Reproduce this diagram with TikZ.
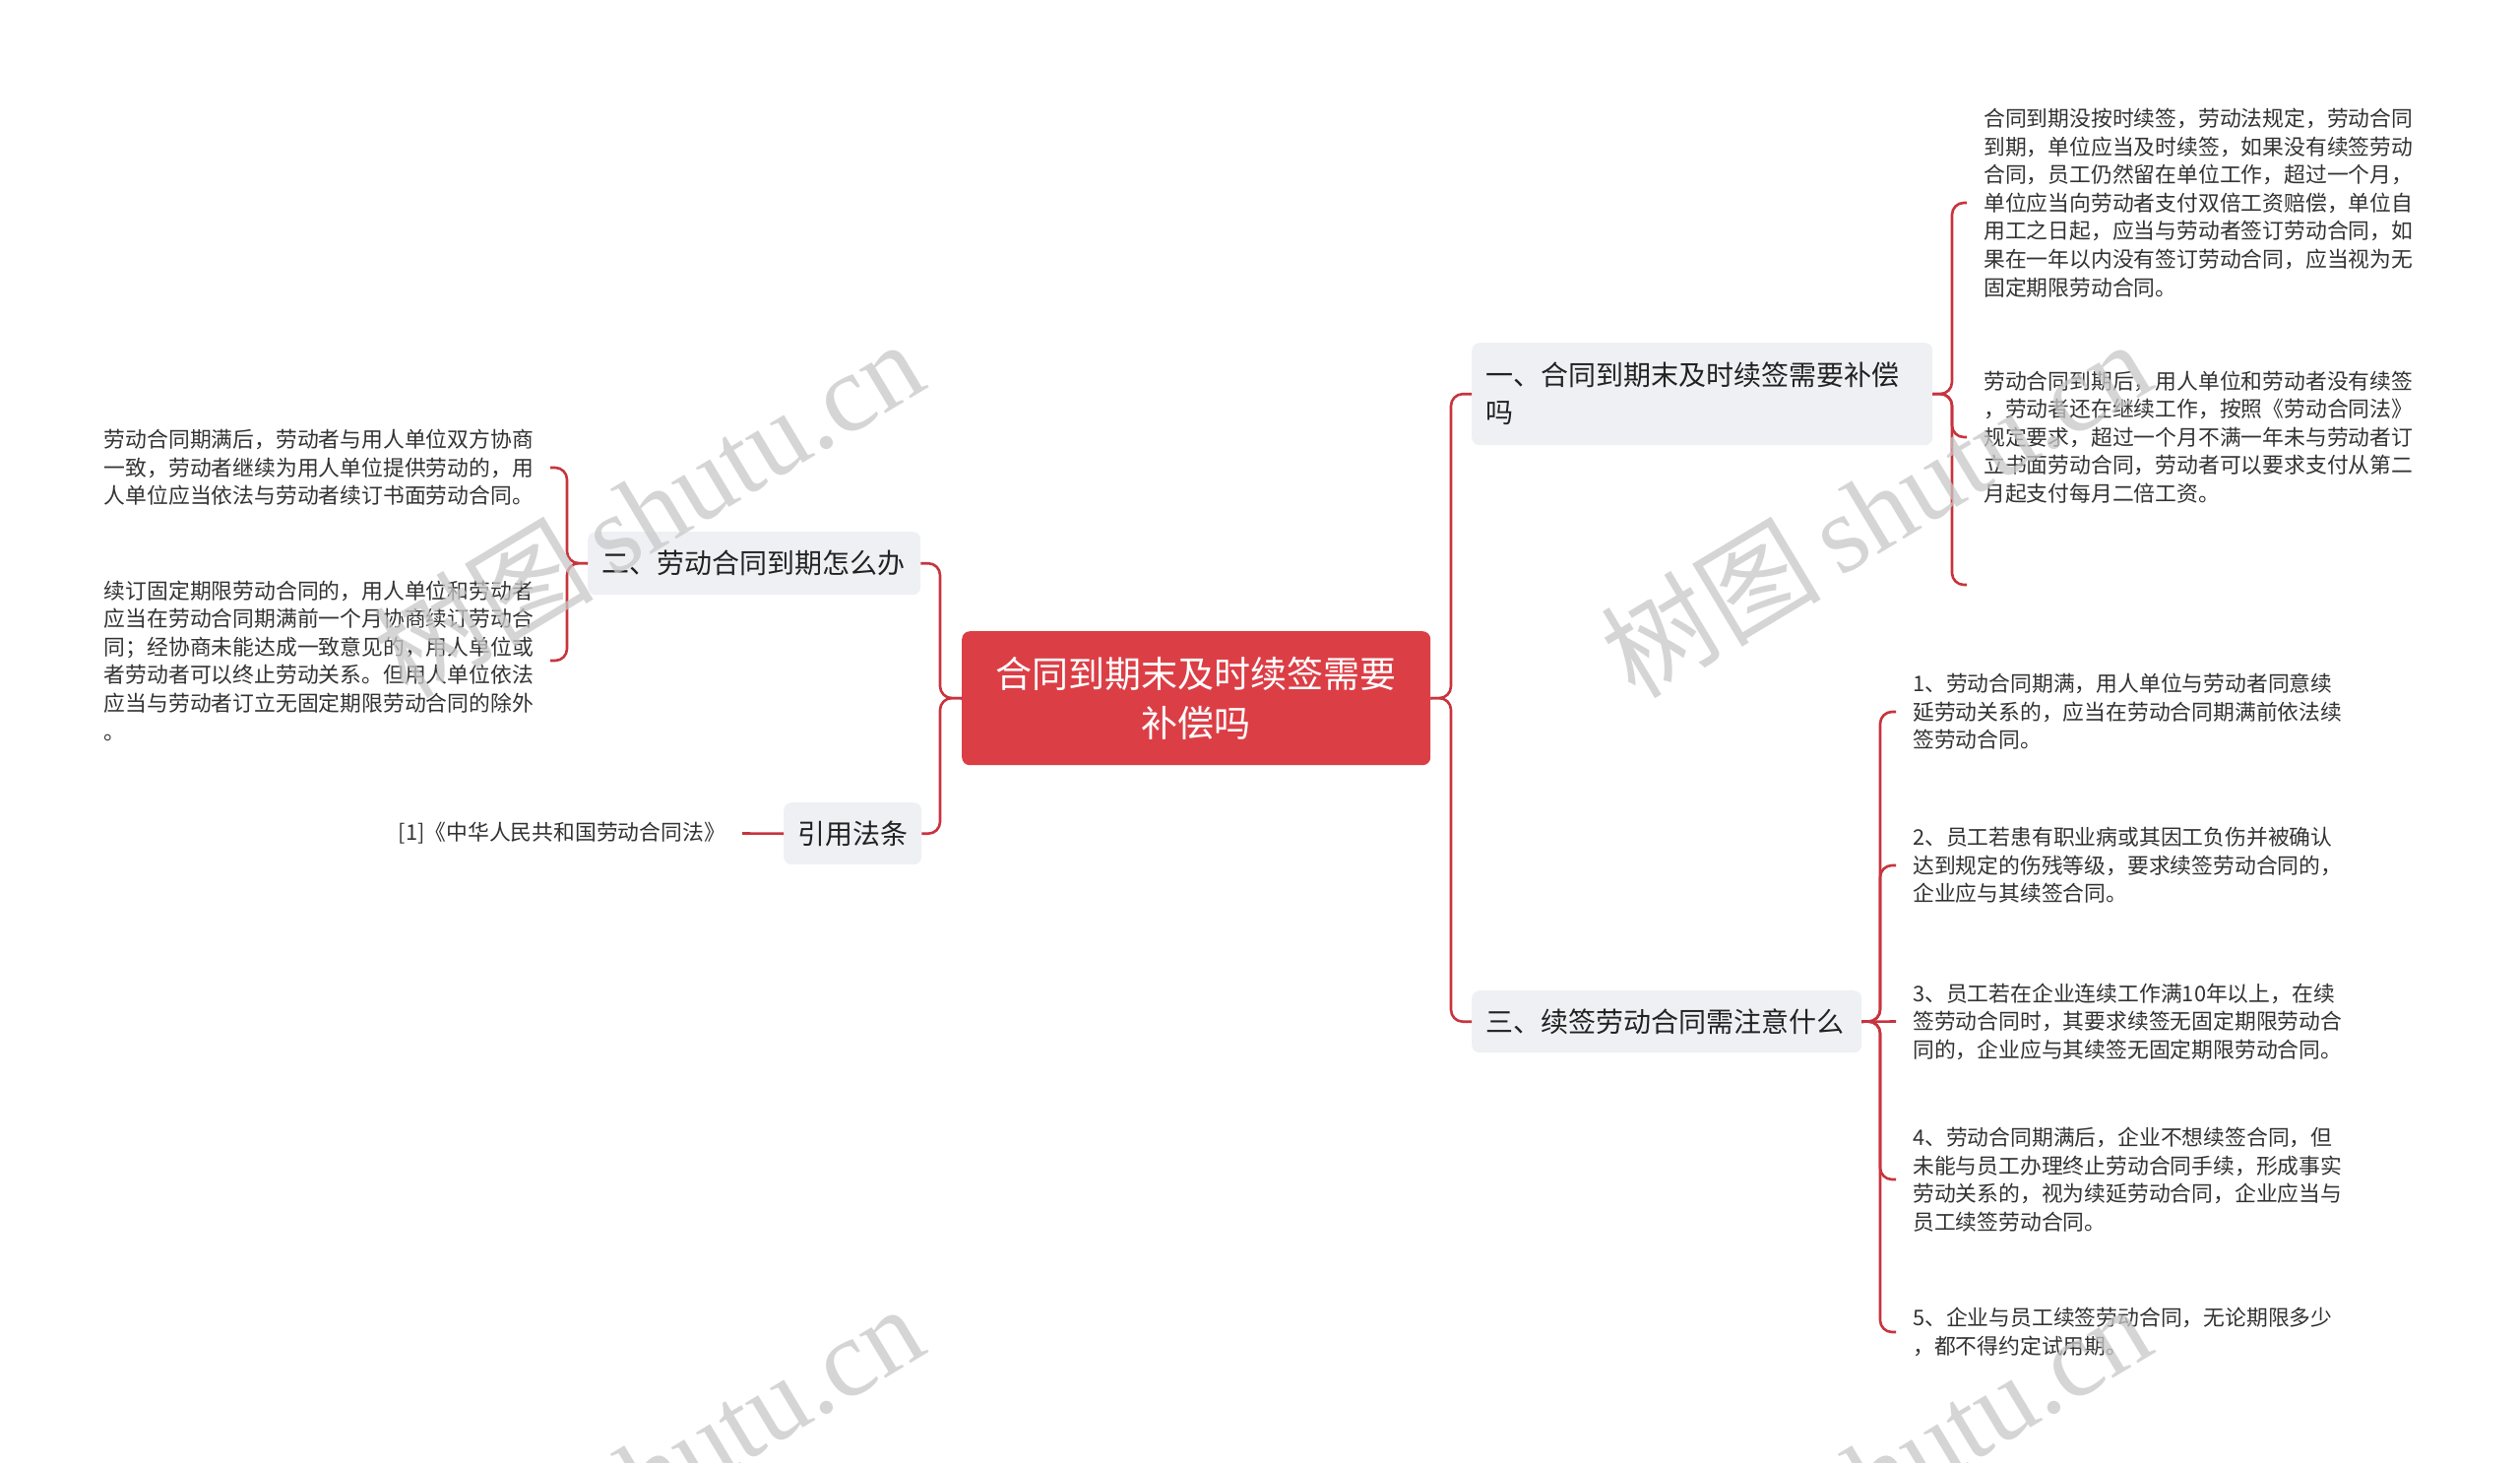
\documentclass[tikz,border=0pt]{standalone}
\usepackage{fontspec}
\setmainfont{Noto Sans CJK SC}
\newfontfamily\wmlat{Liberation Serif}
\definecolor{connred}{RGB}{200,52,62}
\definecolor{mainred}{RGB}{220,62,70}
\definecolor{boxgray}{RGB}{238,240,244}
\definecolor{textgray}{RGB}{51,51,51}
\definecolor{darktext}{RGB}{34,34,34}
\definecolor{wmgray}{RGB}{200,200,200}
\begin{document}
\begin{tikzpicture}[x=1pt,y=-1pt,
  conn/.style={draw=connred, line width=2.6pt, rounded corners=12pt},
  leaf/.style={inner xsep=17pt, inner ysep=4pt, align=left, text=textgray,
    font=\fontsize{21.8}{28.6}\selectfont},
  branch/.style={fill=boxgray, rounded corners=8pt, inner xsep=14pt, inner ysep=0pt,
    align=left, text=darktext, font=\fontsize{28}{38}\selectfont},
  central/.style={fill=mainred, rounded corners=8pt, inner sep=0pt, align=center,
    text=white, font=\fontsize{37}{50}\selectfont},
  wm/.style={text=wmgray, opacity=0.75, rotate=31, inner sep=0pt}
]
\fill[white] (0,0) rectangle (2560,1486);
\path[use as bounding box] (0,0) rectangle (2560,1486);

% central
\node[central, anchor=north west, minimum width=476pt, minimum height=136pt] (c) at (977,641)
  {合同到期末及时续签需要\\补偿吗};

% branches
\node[branch, anchor=north west, text width=440pt, minimum height=104pt] (b1) at (1495,348)
  {一、合同到期末及时续签需要补偿\\吗};
\node[branch, anchor=north west, text width=368pt, minimum height=63pt] (b3) at (1495,1006)
  {三、续签劳动合同需注意什么};
\node[branch, anchor=north west, text width=310pt, minimum height=64pt] (b2) at (597,540)
  {二、劳动合同到期怎么办};
\node[branch, anchor=north west, text width=112pt, minimum height=63pt] (yy) at (796,815)
  {引用法条};

% leaves of branch 1
\node[leaf, anchor=west, text width=440pt] (r1a) at (1998,206)
  {合同到期没按时续签，劳动法规定，劳动合同\\到期，单位应当及时续签，如果没有续签劳动\\合同，员工仍然留在单位工作，超过一个月，\\单位应当向劳动者支付双倍工资赔偿，单位自\\用工之日起，应当与劳动者签订劳动合同，如\\果在一年以内没有签订劳动合同，应当视为无\\固定期限劳动合同。};
\node[leaf, anchor=west, text width=440pt] (r1b) at (1998,444)
  {劳动合同到期后，用人单位和劳动者没有续签\\，劳动者还在继续工作，按照《劳动合同法》\\规定要求，超过一个月不满一年未与劳动者订\\立书面劳动合同，劳动者可以要求支付从第二\\月起支付每月二倍工资。};
\coordinate (e1) at (1998,594);

% leaves of branch 3
\node[leaf, anchor=west, text width=440pt] (r3a) at (1926,723)
  {1、劳动合同期满，用人单位与劳动者同意续\\延劳动关系的，应当在劳动合同期满前依法续\\签劳动合同。};
\node[leaf, anchor=west, text width=440pt] (r3b) at (1926,879)
  {2、员工若患有职业病或其因工负伤并被确认\\达到规定的伤残等级，要求续签劳动合同的，\\企业应与其续签合同。};
\node[leaf, anchor=west, text width=440pt] (r3c) at (1926,1037.5)
  {3、员工若在企业连续工作满10年以上，在续\\签劳动合同时，其要求续签无固定期限劳动合\\同的，企业应与其续签无固定期限劳动合同。};
\node[leaf, anchor=west, text width=440pt] (r3d) at (1926,1198)
  {4、劳动合同期满后，企业不想续签合同，但\\未能与员工办理终止劳动合同手续，形成事实\\劳动关系的，视为续延劳动合同，企业应当与\\员工续签劳动合同。};
\node[leaf, anchor=west, text width=440pt] (r3e) at (1926,1353)
  {5、企业与员工续签劳动合同，无论期限多少\\，都不得约定试用期。};

% leaves of branch 2
\node[leaf, anchor=east, text width=436pt] (l2a) at (559,475)
  {劳动合同期满后，劳动者与用人单位双方协商\\一致，劳动者继续为用人单位提供劳动的，用\\人单位应当依法与劳动者续订书面劳动合同。};
\node[leaf, anchor=east, text width=436pt] (l2b) at (559,671)
  {续订固定期限劳动合同的，用人单位和劳动者\\应当在劳动合同期满前一个月协商续订劳动合\\同；经协商未能达成一致意见的，用人单位或\\者劳动者可以终止劳动关系。但用人单位依法\\应当与劳动者订立无固定期限劳动合同的除外\\。};
\node[leaf, anchor=east] (ref) at (754,846.5) {[1]《中华人民共和国劳动合同法》};

% connectors: central to branches
\draw[conn] (c.east) -- (1474,709) |- (b1.west);
\draw[conn] (c.east) -- (1474,709) |- (b3.west);
\draw[conn] (c.west) -- (955,709) |- (b2.east);
\draw[conn] (c.west) -- (955,709) |- (yy.east);

% branch 1 to leaves
\draw[conn] (b1.east) -- (1983,400) |- (r1a.west);
\draw[conn] (b1.east) -- (1983,400) |- (r1b.west);
\draw[conn] (b1.east) -- (1983,400) |- (e1);

% branch 3 to leaves
\draw[conn] (b3.east) -- (1910,1037.5) |- (r3a.west);
\draw[conn] (b3.east) -- (1910,1037.5) |- (r3b.west);
\draw[conn] (b3.east) -- (r3c.west);
\draw[conn] (b3.east) -- (1910,1037.5) |- (r3d.west);
\draw[conn] (b3.east) -- (1910,1037.5) |- (r3e.west);

% branch 2 to leaves
\draw[conn] (b2.west) -- (576,572) |- (l2a.east);
\draw[conn] (b2.west) -- (576,572) |- (l2b.east);
\draw[conn] (yy.west) -- (ref.east);

% watermarks
\node[wm] (w1) at (658,516) {\fontsize{112}{112}\selectfont 树图\,{\wmlat shutu.cn}};
\node[wm] (w2) at (1905,516) {\fontsize{112}{112}\selectfont 树图\,{\wmlat shutu.cn}};
\node[wm] (w3) at (658,1496) {\fontsize{112}{112}\selectfont 树图\,{\wmlat shutu.cn}};
\node[wm] (w4) at (1905,1496) {\fontsize{112}{112}\selectfont 树图\,{\wmlat shutu.cn}};
\end{tikzpicture}
\end{document}
